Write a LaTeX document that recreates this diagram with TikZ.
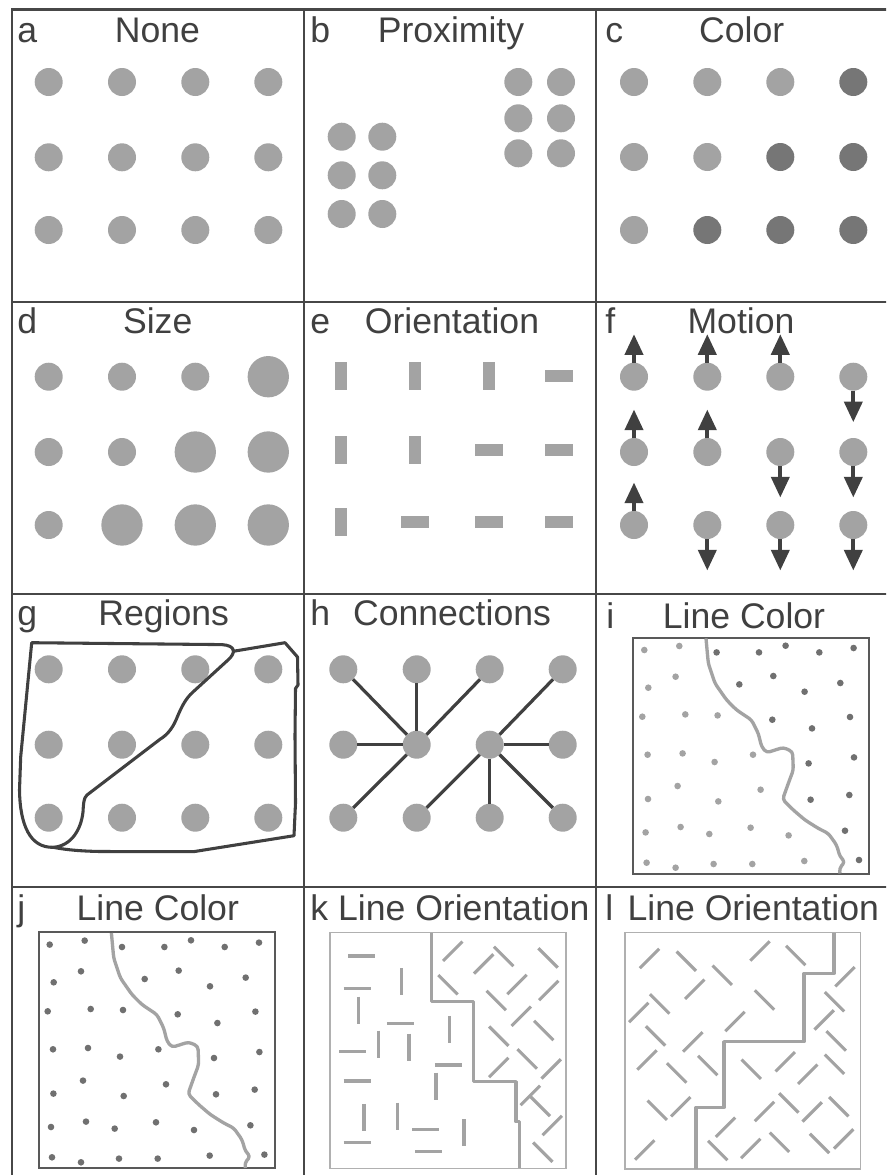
\documentclass[tikz,border=0pt]{standalone}
\usepackage{fontspec}
\setmainfont{Liberation Sans}
\usetikzlibrary{arrows.meta}
\definecolor{dotg}{HTML}{A3A3A3}
\definecolor{dotd}{HTML}{767676}
\definecolor{smalld}{HTML}{707070}
\definecolor{frm}{HTML}{474747}
\definecolor{txt}{HTML}{404040}
\definecolor{lined}{HTML}{404040}
\definecolor{boxl}{HTML}{B0B0B0}
\newcommand\ttlfont{\fontsize{26.7}{32}\selectfont}
\newcommand\ipath{(72.7,0.7) -- (75,25.7) -- (81.7,45.7) -- (93.3,62.3) -- (103.3,72.3) -- (118.3,82.3) -- (125,95.7) -- (128.3,109) -- (133.3,115) -- (150,109.7) -- (159.3,114) -- (160,132.3) -- (155,145.7) -- (149.3,161.7) -- (160,172.3) -- (171.7,182.3) -- (185,190.7) -- (195,195.7) -- (203.3,207.3) -- (206.7,219) -- (211.7,224) -- (206,230.7) -- (206.7,235.7)}
\def\ilight{(11,12.3),(46,8.3),(15,50),(42.3,39),(9,79),(52,76.7),(84.3,77.7),(14.3,117),(49.3,115.7),(81.3,124.3),(119.7,117),(44.3,148.3),(14.7,161.3),(85,163.7),(127.3,152),(12.3,194.7),(47.3,189.3),(76,196.3),(117.3,190),(155.3,197.7),(13.3,225),(42.3,230),(80.3,226.3),(119,226.3),(171,223.3)}
\def\idark{(83.3,14.7),(125.7,14.7),(152.3,8),(186,14.7),(220.3,10.3),(106,46.7),(140,38.3),(171.3,54),(207,45.3),(139,82),(178.7,90.7),(216.7,79.3),(175.3,125.7),(220.7,119.7),(177.3,162),(216,157.3),(211.7,193),(225.7,222.3)}
\begin{document}
\begin{tikzpicture}[x=0.75pt,y=-0.75pt,
  frame/.style={draw=frm, line width=1.6pt},
  lab/.style={anchor=base west, inner sep=0pt, font=\ttlfont, text=txt},
  ttl/.style={anchor=base, inner sep=0pt, font=\ttlfont, text=txt},
  dot/.style={circle, fill=dotg, inner sep=0pt, outer sep=0pt, minimum size=21pt},
  darkdot/.style={dot, fill=dotd},
  bigdot/.style={dot, minimum size=31pt},
  bar/.style={fill=dotg},
  mot/.style={draw=lined, line width=3pt, -{Triangle[length=15.5pt,width=13.5pt]}},
  conn/.style={draw=lined, line width=2.4pt},
  reg/.style={draw=lined, line width=2.3pt, line join=round},
  dkbox/.style={draw=frm!90, line width=1.3pt},
  ltbox/.style={draw=boxl, line width=0.9pt},
  bline/.style={draw=dotg, line width=2.5pt, rounded corners=2.5pt, line join=round},
  seg/.style={draw=dotg, line width=2.3pt}
]
\useasboundingbox (0,0) rectangle (886,1175);
\clip (0,0) rectangle (886,1175);
\fill[white] (0,0) rectangle (886,1175);

% frame
\draw[frame] (12,9.5) rectangle (890,1180);
\draw[frame] (304,9.5) -- (304,1180);
\draw[frame] (596,9.5) -- (596,1180);
\draw[frame] (12,302) -- (890,302);
\draw[frame] (12,594) -- (890,594);
\draw[frame] (12,887) -- (890,887);

% labels and titles
\node[lab] (la) at (17,42) {a};   \node[ttl] (ta) at (157.5,42) {None};
\node[lab] (lb) at (310,42) {b};  \node[ttl] (tb) at (451,42) {Proximity};
\node[lab] (lc) at (605,42) {c};  \node[ttl] (tc) at (741.7,42) {Color};
\node[lab] (ld) at (17,333.3) {d};  \node[ttl] (td) at (157.7,333.3) {Size};
\node[lab] (le) at (310,333.3) {e}; \node[ttl] (te) at (452,333.3) {Orientation};
\node[lab] (lf) at (605,333.3) {f}; \node[ttl] (tf) at (741,333.3) {Motion};
\node[lab] (lg) at (17,625) {g};   \node[ttl] (tg) at (163.7,625) {Regions};
\node[lab] (lh) at (310,625) {h};  \node[ttl] (th) at (452,625) {Connections};
\node[lab] (li) at (606,628) {i};  \node[ttl] (ti) at (744,628) {Line Color};
\node[lab] (lj) at (17,920) {j};   \node[ttl] (tj) at (157.8,920) {Line Color};
\node[lab] (lk) at (310,920) {k};  \node[ttl] (tk) at (463.8,920) {Line Orientation};
\node[lab] (ll) at (605,920) {l};  \node[ttl] (tl) at (753.3,920) {Line Orientation};

% a: none
\foreach \c/\x in {1/48.7,2/122,3/195.3,4/268.3}
  \foreach \r/\y in {1/82,2/157.3,3/230}
    \node[dot] (a\r\c) at (\x,\y) {};

% b: proximity
\foreach \c/\x in {1/341.7,2/382.3}
  \foreach \r/\y in {1/136.7,2/175.3,3/214}
    \node[dot] (bl\r\c) at (\x,\y) {};
\foreach \c/\x in {1/518.3,2/561}
  \foreach \r/\y in {1/82,2/118.3,3/153.3}
    \node[dot] (br\r\c) at (\x,\y) {};

% c: color
\foreach \c/\x in {1/634,2/707.3,3/780.3,4/853.3}
  \foreach \r/\y in {1/82,2/157,3/230}{
    \ifnum\numexpr\r+\c\relax>4
      \node[darkdot] (c\r\c) at (\x,\y) {};
    \else
      \node[dot] (c\r\c) at (\x,\y) {};
    \fi}

% d: size
\foreach \c/\x in {1/48.7,2/122,3/195.3,4/268.3}
  \foreach \r/\y in {1/376.7,2/452,3/525}{
    \ifnum\numexpr\r+\c\relax>4
      \node[bigdot] (d\r\c) at (\x,\y) {};
    \else
      \node[dot] (d\r\c) at (\x,\y) {};
    \fi}

% e: orientation
\foreach \c/\x in {1/341.3,2/415,3/488.7,4/558.7}
  \foreach \r/\y in {1/375.7,2/450,3/522.3}{
    \ifnum\numexpr\r+\c\relax>4
      \fill[bar] (\x-14,\y-6) rectangle (\x+14,\y+6);
    \else
      \fill[bar] (\x-6,\y-14) rectangle (\x+6,\y+14);
    \fi}

% f: motion
\foreach \c/\x in {1/634,2/707.3,3/780.3,4/853.3}
  \foreach \r/\y in {1/376.7,2/452,3/525}{
    \node[dot] (f\r\c) at (\x,\y) {};
    \ifnum\numexpr\r+\c\relax>4
      \draw[mot] (f\r\c.south) -- ++(0,31.5);
    \else
      \draw[mot] (f\r\c.north) -- ++(0,-28.5);
    \fi}

% g: regions
\foreach \c/\x in {1/48.7,2/122,3/195.3,4/268.3}
  \foreach \r/\y in {1/669.3,2/744.7,3/817.7}
    \node[dot] (g\r\c) at (\x,\y) {};
\draw[reg] (31.7,642.7) -- (222,644.6) .. controls (236,645.5) and (236,653) .. (228,660)
  -- (193.3,691.7) .. controls (185,699) and (181,708) .. (176,720)
  .. controls (172,729) and (167,735) .. (160,739.3)
  -- (87,795) .. controls (83.5,798) and (83.5,804) .. (83,812)
  .. controls (81,830) and (71,846) .. (53.3,847.3)
  .. controls (30,848) and (20,825) .. (19.5,790) -- (20.7,756.7) -- cycle;
\draw[reg] (232,651.5) -- (285,642.7) -- (297.5,657) -- (298,685) -- (295.5,688.5)
  -- (295,736) -- (295.5,803) -- (294,835.7) -- (193.3,851.7) -- (100,851.5)
  .. controls (75,851) and (62,849) .. (53.3,847.3);

% h: connections
\foreach \c/\x in {1/343.3,2/416.7,3/489.7,4/562.7}
  \foreach \r/\y in {1/669.3,2/744.7,3/817.7}
    \node[dot] (h\r\c) at (\x,\y) {};
\foreach \t in {11,12,13,21,31} \draw[conn] (h22) -- (h\t);
\foreach \t in {14,24,32,33,34} \draw[conn] (h23) -- (h\t);

% i: line color
\begin{scope}[shift={(633.3,637.7)}]
  \draw[dkbox] (0,0) rectangle (236,236);
  \foreach \p in \ilight \fill[dotg] \p circle (3.3);
  \foreach \p in \idark \fill[smalld] \p circle (3.3);
  \draw[bline] \ipath;
\end{scope}

% j: line color
\begin{scope}[shift={(38.7,932.3)}]
  \draw[dkbox] (0,0) rectangle (236.3,236);
  \foreach \p in \ilight \fill[smalld] \p circle (3.3);
  \foreach \p in \idark \fill[smalld] \p circle (3.3);
  \draw[bline] \ipath;
\end{scope}

% k: line orientation
\begin{scope}[shift={(330,932.7)}]
  \draw[ltbox] (0,0) rectangle (236,235.6);
  \foreach \x/\y in {31.7/23.3,27/55.7,70.3/90.7,22.7/119,118.3/132.3,27/148.3,95.7/196.7,27/210,98.7/219}
    \draw[seg] (\x-13.5,\y) -- (\x+13.5,\y);
  \foreach \x/\y in {71.7/49,28.3/77.3,48.3/111.3,79/114.3,119.3/96.7,106/153.3,34/184.7,67.3/183.3,134/200}
    \draw[seg] (\x,\y-13.5) -- (\x,\y+13.5);
  \foreach \x/\y in {122.8/18.5,153.7/31.2,187/51.8,218.8/57.8,191.3/83.5,168.8/134.8,221.2/136.2,200.3/162.7,222.2/192.8}
    \draw[seg] (\x-9.7,\y+9.7) -- (\x+9.7,\y-9.7);
  \foreach \x/\y in {173.7/23.7,218/25.2,118/52,166.2/67.8,213.7/97.8,168.8/103.5,197.2/126.2,210.3/173.7,212.8/219.5}
    \draw[seg] (\x-9.7,\y-9.7) -- (\x+9.7,\y+9.7);
  \draw[bline, rounded corners=0pt] (101.7,0.5) -- (101.7,69) -- (143.3,69) -- (143.3,149) -- (186,149) -- (186,189) -- (189.3,189) -- (189.3,235.6);
\end{scope}

% l: line orientation
\begin{scope}[shift={(625,932.7)}]
  \draw[ltbox] (0,0) rectangle (235.7,236.3);
  \foreach \x/\y in {24.5/25.7,135/18.2,69.8/56.5,220/44,13.8/79.8,110/88.8,199.2/87.2,67.8/109.2,22/127.2,160.2/129,182.8/141.5,55.8/174,139.5/178.8,187.2/179.2,100.5/194.5,19.7/217.3,125.8/215.8,218.7/206.2}
    \draw[seg] (\x-9.7,\y+9.7) -- (\x+9.7,\y-9.7);
  \foreach \x/\y in {61.3/28.5,170.7/22.8,97.2/42.5,139.5/67.3,34.7/71.2,209.5/69,30.5/103.2,211.2/108.2,51.7/140.2,82.8/132.8,126.2/136.5,209.5/131.5,32.2/177.5,163.8/170.2,213.8/174,92.8/217.8,154.5/209.5,194.5/210.7}
    \draw[seg] (\x-9.7,\y-9.7) -- (\x+9.7,\y+9.7);
  \draw[bline, rounded corners=0pt] (209,0.5) -- (209,40.7) -- (179,40.7) -- (179,109) -- (99,109) -- (99,174.7) -- (71,174.7) -- (71,236);
\end{scope}
\end{tikzpicture}
\end{document}
